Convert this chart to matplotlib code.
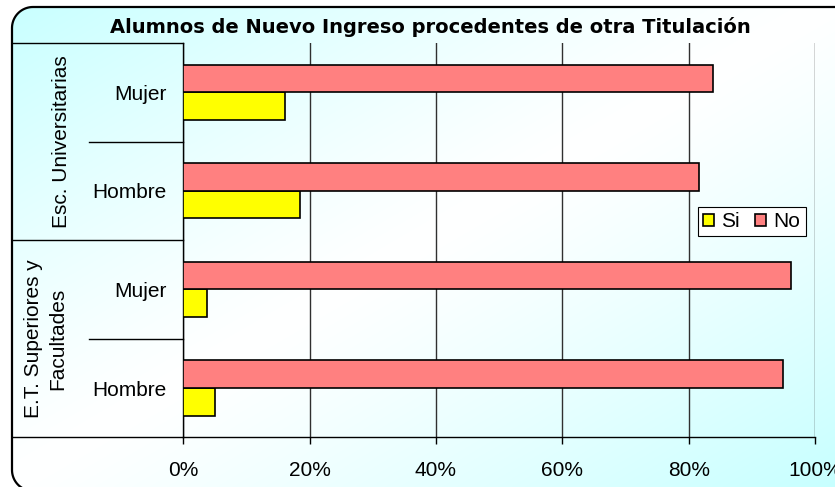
import numpy as np
import matplotlib
matplotlib.use("Agg")
import matplotlib.pyplot as plt
from matplotlib.patches import Polygon

plt.rcParams['font.family'] = ['Liberation Sans', 'DejaVu Sans']

# ---- data ----
title = "Alumnos de Nuevo Ingreso procedentes de otra Titulación"
categories = ["Mujer", "Hombre", "Mujer", "Hombre"]
groups = ["Esc. Universitarias", "E.T. Superiores y\nFacultades"]
si_values = [16.1, 18.4, 3.8, 5.0]
no_values = [83.9, 81.6, 96.2, 95.0]
series_names = ["Si", "No"]
xticks = [0, 20, 40, 60, 80, 100]
xtick_labels = ["0%", "20%", "40%", "60%", "80%", "100%"]

W, H = 835, 487
fig = plt.figure(figsize=(W / 100, H / 100), dpi=100)
fig.patch.set_facecolor("white")

# ---- background with gradient and rounded frame (pixel coordinates, y down) ----
bg = fig.add_axes([0, 0, 1, 1], zorder=0)
bg.axis("off")
yy, xx = np.mgrid[0:H, 0:W]
t = (xx / W + yy / H) / 2.0
f = np.clip(np.abs(t - 0.5) * 2.0, 0, 1) ** 1.2
cyan = np.array([0.78, 1.0, 1.0])
img = (1 - f)[..., None] * np.array([1.0, 1.0, 1.0]) + f[..., None] * cyan
im = bg.imshow(img, extent=(0, W, H, 0), aspect="auto", zorder=1)

fl, ft, fb, fr, rad = 12.0, 7.0, 491.0, 848.0, 21.0
a1 = np.linspace(np.pi * 1.5, np.pi, 20)
a2 = np.linspace(np.pi, np.pi * 0.5, 20)
a3 = np.linspace(np.pi * 0.5, 0, 20)
a4 = np.linspace(0, -np.pi * 0.5, 20)
px = np.concatenate([fl + rad + rad * np.cos(a1), fl + rad + rad * np.cos(a2),
                     fr - rad + rad * np.cos(a3), fr - rad + rad * np.cos(a4)])
py = np.concatenate([ft + rad + rad * np.sin(a1), fb - rad + rad * np.sin(a2),
                     fb - rad + rad * np.sin(a3), ft + rad + rad * np.sin(a4)])
clip_poly = Polygon(np.column_stack([px, py]), closed=True, transform=bg.transData,
                    facecolor="none", edgecolor="none")
im.set_clip_path(clip_poly)
ox = np.concatenate([[W + 40], px[:40], [W + 40]])
oy = np.concatenate([[ft], py[:40], [fb]])
bg.plot(ox, oy, color="black", lw=1.6, zorder=5, solid_joinstyle="round")
bg.set_xlim(0, W)
bg.set_ylim(H, 0)

# ---- main axes ----
x0, x1 = 183.3, 815.0
ytop, ybot = 43.0, 437.3
ax = fig.add_axes([x0 / W, (H - ybot) / H, (x1 - x0) / W, (ybot - ytop) / H], zorder=2)
ax.patch.set_alpha(0)

y = np.arange(len(categories))
bh = 0.28
ax.barh(y + 0.14, si_values, height=bh, color="#FFFF00", edgecolor="black",
        linewidth=1.2, label=series_names[0], zorder=3)
ax.barh(y - 0.14, no_values, height=bh, color="#FF8080", edgecolor="black",
        linewidth=1.2, label=series_names[1], zorder=3)

ax.set_xlim(0, 100)
ax.set_ylim(3.5, -0.5)
ax.set_xticks(xticks)
ax.set_xticklabels(xtick_labels, fontsize=15)
ax.set_yticks(y)
ax.set_yticklabels(categories, fontsize=15)
ax.tick_params(axis="y", length=0, pad=12)
ax.tick_params(axis="x", length=5, width=1, color="black", pad=12, direction="out")
ax.xaxis.grid(True, color="#303030", linewidth=1.0, zorder=1)
ax.set_axisbelow(True)
for s in ["top", "right"]:
    ax.spines[s].set_visible(False)
ax.spines["left"].set_linewidth(1.0)
ax.spines["bottom"].set_linewidth(1.0)

# ---- left category table lines ----
xl_outer = (12 - x0) / (x1 - x0)
xl_inner = (89 - x0) / (x1 - x0)
tr = ax.get_yaxis_transform()
for yv in [-0.5, 1.5, 3.5]:
    ax.plot([xl_outer, 0], [yv, yv], color="black", lw=1.0, transform=tr, clip_on=False)
for yv in [0.5, 2.5]:
    ax.plot([xl_inner, 0], [yv, yv], color="black", lw=1.0, transform=tr, clip_on=False)

# group labels
ax.text((61 - x0) / (x1 - x0), 0.5, groups[0], rotation=90, fontsize=15,
        ha="center", va="center", transform=tr)
ax.text((45.5 - x0) / (x1 - x0), 2.5, groups[1], rotation=90, fontsize=15,
        ha="center", va="center", multialignment="center", linespacing=1.35,
        transform=tr)

# ---- legend ----
leg = ax.legend(loc="center", bbox_to_anchor=((751.5 - x0) / (x1 - x0), 1 - (221.7 - ytop) / (ybot - ytop)),
                ncol=2, fontsize=15, frameon=True, fancybox=False, framealpha=1,
                edgecolor="black", handlelength=0.55, handleheight=0.55,
                handletextpad=0.35, columnspacing=0.7, borderpad=0.25,
                borderaxespad=0)
leg.get_frame().set_linewidth(0.8)

# ---- title ----
fig.text(430 / W, 1 - 27 / H, title, fontsize=14, fontweight="bold",
         family=["DejaVu Sans"], ha="center", va="center", zorder=5)

fig.savefig("out.png", dpi=100)
